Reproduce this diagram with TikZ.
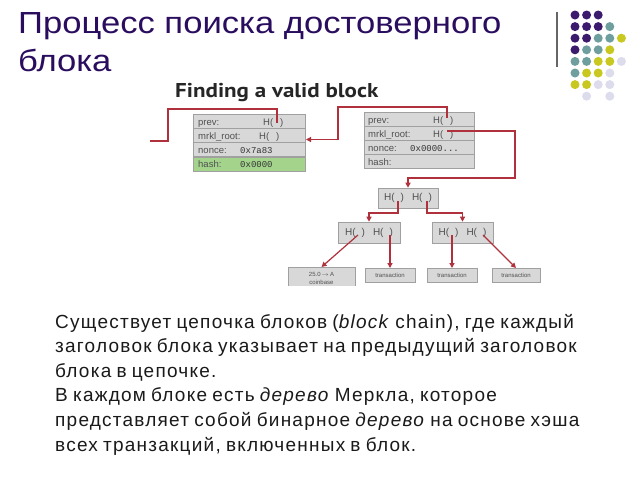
\documentclass[tikz,border=0pt]{standalone}
\usepackage{fontspec}
\setmainfont{Liberation Sans}
\newfontfamily\ptsans[FakeStretch=1.15]{PT Sans}
\newfontfamily\titlefont[FakeStretch=1.135]{Liberation Sans}
\newfontfamily\bodyfont[LetterSpace=6.5,WordSpace=0.8]{Liberation Sans}
\setmonofont{Liberation Mono}
\usetikzlibrary{arrows.meta,calc}
\definecolor{titlecol}{HTML}{2A0D5E}
\definecolor{dpurple}{HTML}{3C1A6E}
\definecolor{dteal}{HTML}{6E9E9E}
\definecolor{dyellow}{HTML}{C8C820}
\definecolor{dlav}{HTML}{DCDCEC}
\definecolor{boxfill}{HTML}{D8D8D8}
\definecolor{boxline}{HTML}{A0A0A0}
\definecolor{hashgreen}{HTML}{A4D48C}
\definecolor{conn}{HTML}{B0303C}
\definecolor{boxtext}{HTML}{505050}
\definecolor{bodytext}{HTML}{1A1A1A}
\begin{document}
\begin{tikzpicture}[x=1pt,y=-1pt,
  rowbox/.style={draw=boxline, fill=boxfill, minimum width=112pt, minimum height=14pt, anchor=north west, inner sep=0pt, line width=0.6pt},
  lbl/.style={anchor=base west, font=\fontsize{9.5}{10}\selectfont, text=boxtext, inner sep=0pt},
  monolbl/.style={anchor=base west, font=\ttfamily\fontsize{9}{10}\selectfont, text=black!80, inner sep=0pt},
  treebox/.style={draw=boxline, fill=boxfill, inner sep=0pt, line width=0.6pt, font=\fontsize{10}{11}\selectfont, text=boxtext},
  leafbox/.style={draw=boxline, fill=boxfill, inner sep=0pt, line width=0.6pt, font=\fontsize{6}{7}\selectfont, text=boxtext, minimum height=14pt},
  wire/.style={draw=conn, line width=1.2pt},
  arr/.style={wire, -{Triangle[length=5pt,width=5pt]}},
  dotc/.style={circle, inner sep=0pt, minimum size=9pt},
  bodyline/.style={anchor=base west, inner sep=0pt, font=\bodyfont\fontsize{19}{24}\selectfont, text=bodytext},
  titleline/.style={anchor=base west, inner sep=0pt, font=\titlefont\fontsize{30.5}{35}\selectfont, text=titlecol}
]
\useasboundingbox[fill=white] (0,0) rectangle (640,480);

% title
\node[titleline] (t1) at (18,33) {Процесс поиска достоверного};
\node[titleline] (t2) at (18,71) {блока};

% decoration
\draw[draw=black!60, line width=1.2pt] (557,12) coordinate (vl1) -- (557,67) coordinate (vl2);
\foreach \r/\c/\col in {0/0/dpurple,0/1/dpurple,0/2/dpurple,
  1/0/dpurple,1/1/dpurple,1/2/dpurple,1/3/dteal,
  2/0/dpurple,2/1/dpurple,2/2/dteal,2/3/dteal,2/4/dyellow,
  3/0/dpurple,3/1/dteal,3/2/dteal,3/3/dyellow,
  4/0/dteal,4/1/dteal,4/2/dyellow,4/3/dyellow,4/4/dlav,
  5/0/dteal,5/1/dyellow,5/2/dyellow,5/3/dlav,
  6/0/dyellow,6/1/dyellow,6/2/dlav,6/3/dlav,
  7/1/dlav,7/3/dlav}
  \node[dotc, fill=\col] (d\r\c) at (575+11.6*\c, 15+11.6*\r) {};

% diagram
\begin{scope}
\clip (140,75) rectangle (560,285);
\node[anchor=base west, inner sep=0pt, font=\ptsans\bfseries\fontsize{20}{22}\selectfont, text=black!85] (dt) at (175,97) {Finding a valid block};

% block 1
\node[rowbox] (b1r1) at (193,114) {};
\node[rowbox] (b1r2) at (193,128.2) {};
\node[rowbox] (b1r3) at (193,142.4) {};
\node[rowbox, fill=hashgreen] (b1r4) at (193,156.6) {};
\node[lbl] (b1l1) at (198,125) {prev:};
\node[lbl] (b1h1) at (263,125) {H(\hspace{7pt})};
\node[lbl] (b1l2) at (198,139.2) {mrkl\_root:};
\node[lbl] (b1h2) at (259,139.2) {H(\hspace{7pt})};
\node[lbl] (b1l3) at (198,153.4) {nonce:};
\node[monolbl] (b1v3) at (240,153.4) {0x7a83};
\node[lbl] (b1l4) at (198,167.6) {hash:};
\node[monolbl] (b1v4) at (240,167.6) {0x0000};

% block 2
\node[rowbox, minimum width=110pt] (b2r1) at (364,112) {};
\node[rowbox, minimum width=110pt] (b2r2) at (364,126) {};
\node[rowbox, minimum width=110pt] (b2r3) at (364,140) {};
\node[rowbox, minimum width=110pt] (b2r4) at (364,154) {};
\node[lbl] (b2l1) at (368,123) {prev:};
\node[lbl] (b2h1) at (433,123) {H(\hspace{7pt})};
\node[lbl] (b2l2) at (368,137) {mrkl\_root:};
\node[lbl] (b2h2) at (433,137) {H(\hspace{7pt})};
\node[lbl] (b2l3) at (368,151) {nonce:};
\node[monolbl] (b2v3) at (410,151) {0x0000...};
\node[lbl] (b2l4) at (368,165) {hash:};

% tree
\node[treebox, minimum width=60pt, minimum height=20pt] (root) at (408,198) {H(\hspace{6pt})\hspace{8pt}H(\hspace{6pt})};
\node[treebox, minimum width=62pt, minimum height=21pt] (l2a) at (369,232.5) {H(\hspace{6pt})\hspace{8pt}H(\hspace{6pt})};
\node[treebox, minimum width=61pt, minimum height=21pt] (l2b) at (462.5,232.5) {H(\hspace{6pt})\hspace{8pt}H(\hspace{6pt})};
\node[leafbox, minimum width=67pt, minimum height=26pt, anchor=north] (lf1) at (321.5,267) {};
\node[font=\fontsize{6}{7}\selectfont, text=boxtext, inner sep=0pt, anchor=base] (lf1t) at (321.5,276) {25.0\,\(\rightarrow\)\,A};
\node[font=\fontsize{6}{7}\selectfont, text=boxtext, inner sep=0pt, anchor=base] (lf1u) at (321.5,284.5) {coinbase};
\node[leafbox, minimum width=50pt, anchor=north] (lf2) at (390,268) {transaction};
\node[leafbox, minimum width=50pt, anchor=north] (lf3) at (452,268) {transaction};
\node[leafbox, minimum width=48pt, anchor=north] (lf4) at (516,268) {transaction};

% wire endpoints
\coordinate (w1a) at (150,141);
\coordinate (w1b) at (277,123);
\coordinate (b2p) at (447,118);
\coordinate (b1in) at (306,139.5);
\coordinate (b2m) at (447,131);
\coordinate (rL) at (398,201);
\coordinate (rR) at (427,201);
\coordinate (aL) at (358,235);
\coordinate (aR) at (390,235);
\coordinate (bL) at (452,235);
\coordinate (bR) at (483,235);

\draw[wire] (w1a) -- ++(18,0) -- ++(0,-32) -| (w1b);
\draw[arr] (b2p) -- ++(0,-11) -| (338,139.5) -- (b1in);
\draw[arr] (b2m) -| (515,178) -| (root.north);
\draw[arr] (rL) -- ++(0,12) -| (l2a.north);
\draw[arr] (rR) -- ++(0,12) -| (l2b.north);
\draw[arr] (aL) -- (lf1.north);
\draw[arr] (aR) -- (lf2.north);
\draw[arr] (bL) -- (lf3.north);
\draw[arr] (bR) -- (lf4.north);
\end{scope}

% body text
\node[bodyline] (p1) at (55,328) {Существует цепочка блоков (\textit{block} chain), где каждый};
\node[bodyline] (p2) at (55,352.6) {заголовок блока указывает на предыдущий заголовок};
\node[bodyline] (p3) at (55,377.2) {блока в цепочке.};
\node[bodyline] (p4) at (55,401.8) {В каждом блоке есть \textit{дерево} Меркла, которое};
\node[bodyline] (p5) at (55,426.4) {представляет собой бинарное \textit{дерево} на основе хэша};
\node[bodyline] (p6) at (55,451) {всех транзакций, включенных в блок.};
\end{tikzpicture}
\end{document}
